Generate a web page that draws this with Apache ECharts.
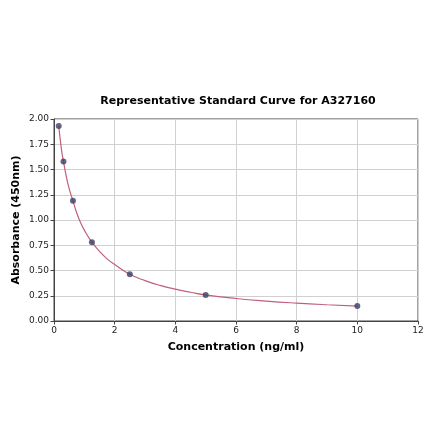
<!DOCTYPE html>
<html>
<head>
<meta charset="utf-8">
<script src="https://cdn.jsdelivr.net/npm/echarts@6/dist/echarts.min.js"></script>
<style>
html, body { margin: 0; padding: 0; background: #fff; }
#chartmain { width: 440px; height: 441px; }
</style>
</head>
<body>
<div id="chartmain"></div>
<script>
// standard points
var concentration = [0.156, 0.3125, 0.625, 1.25, 2.5, 5, 10];
var absorbance = [1.93, 1.58, 1.19, 0.78, 0.463, 0.258, 0.148];

// fitted curve
var curveX = [0.156, 0.25, 0.3125, 0.4, 0.5, 0.625, 0.75, 0.875, 1, 1.25, 1.5, 1.75, 2, 2.5, 3, 3.5, 4, 4.5, 5, 6, 7, 8, 9, 10];
var curveY = [1.93, 1.69, 1.58, 1.44, 1.31, 1.19, 1.07, 0.975, 0.9, 0.78, 0.69, 0.615, 0.56, 0.463, 0.40, 0.352, 0.315, 0.285, 0.258, 0.223, 0.197, 0.177, 0.161, 0.148];

var xTicks = [0, 2, 4, 6, 8, 10, 12];
var yTicks = [0, 0.25, 0.5, 0.75, 1.0, 1.25, 1.5, 1.75, 2.0];

var font = 'DejaVu Sans';

var pts = concentration.map(function (c, i) { return [c, absorbance[i]]; });
var curve = curveX.map(function (c, i) { return [c, curveY[i]]; });

var chart = echarts.init(document.getElementById('chartmain'));
chart.setOption({
    animation: false,
    title: {
        text: 'Representative Standard Curve for A327160',
        left: 233,
        textAlign: 'center',
        top: 91,
        textStyle: { fontFamily: font, fontSize: 11, fontWeight: 'bold', color: '#000' }
    },
    grid: {
        left: 54, right: 22, top: 119, bottom: 120,
        outerBoundsMode: 'none',
        show: true, borderColor: '#444', borderWidth: 1, backgroundColor: 'transparent'
    },
    xAxis: {
        type: 'value',
        min: xTicks[0], max: xTicks[xTicks.length - 1], interval: 2,
        name: 'Concentration (ng/ml)',
        nameLocation: 'middle',
        nameGap: 21,
        nameMoveOverlap: false,
        nameTextStyle: { fontFamily: font, fontSize: 11, fontWeight: 'bold', color: '#000' },
        axisLine: { show: true, lineStyle: { color: '#444' } },
        axisTick: { show: true, length: 3.5, lineStyle: { color: '#444' } },
        axisLabel: { fontFamily: font, fontSize: 9, color: '#222', margin: 5 },
        splitLine: { show: true, lineStyle: { color: '#d0d0d0' } }
    },
    yAxis: {
        type: 'value',
        min: yTicks[0], max: yTicks[yTicks.length - 1], interval: 0.25,
        name: 'Absorbance (450nm)',
        nameLocation: 'middle',
        nameGap: 32,
        nameMoveOverlap: false,
        nameTextStyle: { fontFamily: font, fontSize: 11, fontWeight: 'bold', color: '#000' },
        axisLine: { show: true, lineStyle: { color: '#444' } },
        axisTick: { show: true, length: 3.5, lineStyle: { color: '#444' } },
        axisLabel: {
            fontFamily: font, fontSize: 9, color: '#222', margin: 5,
            formatter: function (v) { return v.toFixed(2); }
        },
        splitLine: { show: true, lineStyle: { color: '#d0d0d0' } }
    },
    series: [{
        type: 'line',
        data: curve,
        smooth: 0.5,
        showSymbol: false,
        lineStyle: { color: '#c0607a', width: 1.2 },
        z: 2
    }, {
        type: 'scatter',
        data: pts,
        symbolSize: 6,
        itemStyle: { color: '#3c3f66' },
        z: 3
    }]
});
</script>
</body>
</html>
